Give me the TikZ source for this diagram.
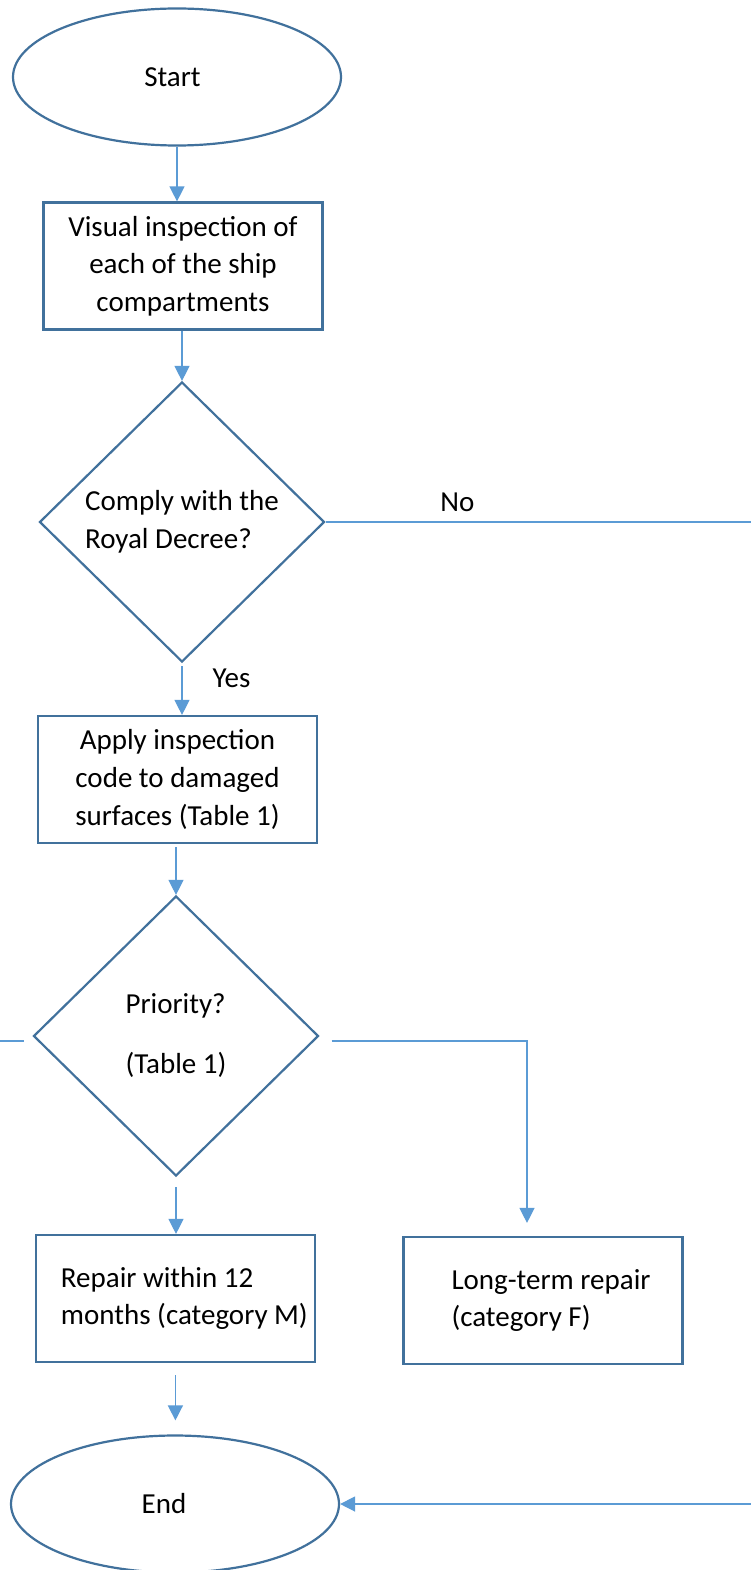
\documentclass[tikz,border=0pt]{standalone}
\usepackage{fontspec}
\setmainfont{Carlito}
\usetikzlibrary{shapes.geometric,arrows.meta}
\definecolor{shapeblue}{HTML}{41719C}
\definecolor{linkblue}{HTML}{5B9BD5}
\begin{document}
\begin{tikzpicture}[x=1pt,y=-1pt,
  every node/.style={font=\fontsize{29}{37.7}\selectfont, text=black},
  shapeline/.style={draw=shapeblue, line width=2.2pt},
  term/.style={shapeline, ellipse, minimum width=328pt, minimum height=137pt, inner sep=0pt},
  proc/.style={shapeline, rectangle, minimum width=279pt, minimum height=127pt, inner sep=0pt},
  decide/.style={shapeline, diamond, minimum width=285pt, minimum height=280pt, inner sep=0pt},
  link/.style={draw=linkblue, line width=1.3pt, -{Triangle[length=15pt,width=15pt]}},
  plainlink/.style={draw=linkblue, line width=1.3pt},
  lbl/.style={inner sep=0pt}]
\fill[white] (0,0) rectangle (751,1570);
\useasboundingbox (0,0) rectangle (751,1570);

\node[term] (start) at (177,77) {\hspace*{-9pt}Start};
\node[proc, align=center] (box1) at (183,266) {Visual inspection of\\each of the ship\\compartments};
\node[decide, align=left] (d1) at (182,522) {Comply with the\\Royal Decree?};
\node[proc, align=center] (box2) at (177.5,779.5) {Apply inspection\\code to damaged\\surfaces (Table 1)};
\node[decide, align=left] (d2) at (176,1036) {Priority?\\[22.3pt](Table 1)};
\node[proc] (box3) at (175.4,1298.5) {\hspace*{18pt}\begin{tabular}{@{}l@{}}Repair within 12\\months (category M)\end{tabular}};
\node[proc] (box4) at (543,1300.5) {\hspace*{16pt}\begin{tabular}{@{}l@{}}Long-term repair\\(category F)\end{tabular}};
\node[term] (end) at (175,1504) {\hspace*{-22pt}End};

\coordinate (noexit) at (751,522);
\coordinate (leftin) at (0,1041);
\coordinate (endin) at (751,1504);

\draw[link] (start.south) -- (start.south |- box1.north);
\draw[link] (d1.north |- box1.south) -- (d1.north);
\draw[link, shorten <=3pt] (d1.south) -- (d1.south |- box2.north)
  node[pos=0.3, anchor=west, xshift=30pt, lbl] {Yes};
\draw[plainlink] (d1.east) -- (noexit)
  node[pos=0.31, anchor=south, yshift=10pt, lbl] {No};
\draw[link, shorten <=3pt] (box2.south -| d2.north) -- (d2.north);
\draw[link, shorten <=10pt] (d2.south) -- (d2.south |- box3.north);
\draw[link, shorten <=12pt, shorten >=13pt] ([yshift=-5pt]d2.east) -| ([xshift=-16pt]box4.north);
\draw[plainlink, shorten >=8.5pt] (leftin) -- ([yshift=-5pt]d2.west);
\draw[link, shorten <=12pt, shorten >=14pt] (box3.south) -- (box3.south |- end.north);
\draw[link] (endin) -- (end.east);
\end{tikzpicture}
\end{document}
